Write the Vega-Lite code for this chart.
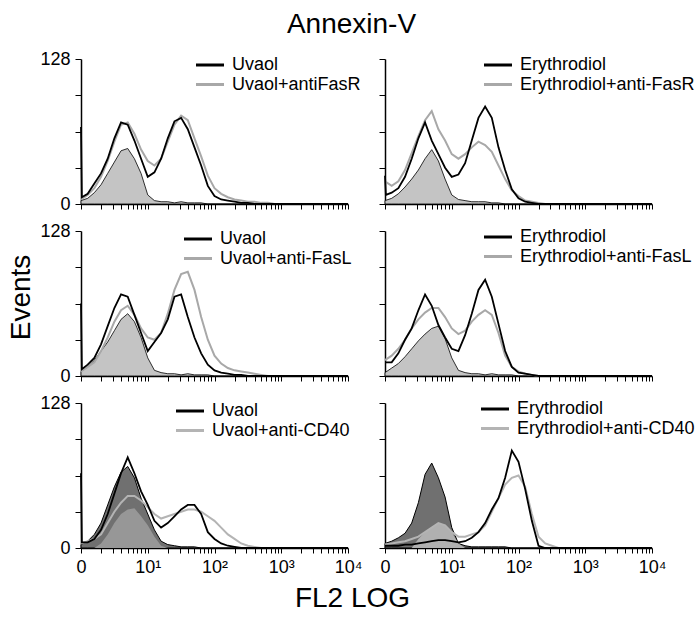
{
"$schema":"https://vega.github.io/schema/vega-lite/v6.json",
"padding":{"left":7,"top":11,"right":0,"bottom":0},
"title":{"text":"Annexin-V","anchor":"middle","fontSize":28,"fontWeight":"normal","font":"Liberation Sans","color":"#000","offset":11},
"datasets":{
"A":[
{"s":"c","x":1,"y":3},{"s":"c","x":1.259,"y":5},{"s":"c","x":1.585,"y":10},{"s":"c","x":1.995,"y":17},{"s":"c","x":2.512,"y":27},{"s":"c","x":3.162,"y":37},{"s":"c","x":3.981,"y":47},{"s":"c","x":5.012,"y":49},{"s":"c","x":6.31,"y":40},{"s":"c","x":7.943,"y":27},{"s":"c","x":10,"y":8},{"s":"c","x":12.59,"y":3},{"s":"c","x":15.85,"y":2},{"s":"c","x":19.95,"y":2},{"s":"c","x":25.12,"y":1},{"s":"c","x":31.62,"y":2},{"s":"c","x":39.81,"y":1},{"s":"c","x":50.12,"y":1},{"s":"c","x":63.1,"y":1},{"s":"c","x":79.43,"y":0},{"s":"c","x":10000,"y":0},
{"s":"b","x":1,"y":68},{"s":"b","x":1.03,"y":6},{"s":"b","x":1.259,"y":9},{"s":"b","x":1.585,"y":18},{"s":"b","x":1.995,"y":27},{"s":"b","x":2.512,"y":40},{"s":"b","x":3.162,"y":58},{"s":"b","x":3.981,"y":72},{"s":"b","x":5.012,"y":70},{"s":"b","x":6.31,"y":56},{"s":"b","x":7.943,"y":40},{"s":"b","x":10,"y":24},{"s":"b","x":12.59,"y":28},{"s":"b","x":15.85,"y":40},{"s":"b","x":19.95,"y":58},{"s":"b","x":25.12,"y":73},{"s":"b","x":31.62,"y":76},{"s":"b","x":39.81,"y":66},{"s":"b","x":50.12,"y":50},{"s":"b","x":63.1,"y":34},{"s":"b","x":79.43,"y":16},{"s":"b","x":100,"y":7},{"s":"b","x":125.9,"y":4},{"s":"b","x":158.5,"y":3},{"s":"b","x":199.5,"y":2},{"s":"b","x":251.2,"y":1},{"s":"b","x":316.2,"y":1},{"s":"b","x":398.1,"y":0},{"s":"b","x":10000,"y":0},
{"s":"g","x":1,"y":4},{"s":"g","x":1.259,"y":8},{"s":"g","x":1.585,"y":14},{"s":"g","x":1.995,"y":24},{"s":"g","x":2.512,"y":38},{"s":"g","x":3.162,"y":55},{"s":"g","x":3.981,"y":70},{"s":"g","x":5.012,"y":72},{"s":"g","x":6.31,"y":62},{"s":"g","x":7.943,"y":48},{"s":"g","x":10,"y":38},{"s":"g","x":12.59,"y":34},{"s":"g","x":15.85,"y":40},{"s":"g","x":19.95,"y":55},{"s":"g","x":25.12,"y":70},{"s":"g","x":31.62,"y":78},{"s":"g","x":39.81,"y":74},{"s":"g","x":50.12,"y":58},{"s":"g","x":63.1,"y":42},{"s":"g","x":79.43,"y":25},{"s":"g","x":100,"y":14},{"s":"g","x":125.9,"y":9},{"s":"g","x":158.5,"y":6},{"s":"g","x":199.5,"y":4},{"s":"g","x":251.2,"y":3},{"s":"g","x":316.2,"y":2},{"s":"g","x":398.1,"y":2},{"s":"g","x":501.2,"y":1},{"s":"g","x":631,"y":1},{"s":"g","x":794.3,"y":0},{"s":"g","x":10000,"y":0}
],
"B":[
{"s":"c","x":1,"y":3},{"s":"c","x":1.259,"y":5},{"s":"c","x":1.585,"y":9},{"s":"c","x":1.995,"y":15},{"s":"c","x":2.512,"y":22},{"s":"c","x":3.162,"y":30},{"s":"c","x":3.981,"y":40},{"s":"c","x":5.012,"y":48},{"s":"c","x":6.31,"y":38},{"s":"c","x":7.943,"y":22},{"s":"c","x":10,"y":8},{"s":"c","x":12.59,"y":4},{"s":"c","x":15.85,"y":3},{"s":"c","x":19.95,"y":2},{"s":"c","x":25.12,"y":2},{"s":"c","x":31.62,"y":2},{"s":"c","x":39.81,"y":1},{"s":"c","x":50.12,"y":1},{"s":"c","x":63.1,"y":0},{"s":"c","x":10000,"y":0},
{"s":"b","x":1,"y":25},{"s":"b","x":1.03,"y":8},{"s":"b","x":1.259,"y":10},{"s":"b","x":1.585,"y":14},{"s":"b","x":1.995,"y":24},{"s":"b","x":2.512,"y":40},{"s":"b","x":3.162,"y":58},{"s":"b","x":3.981,"y":72},{"s":"b","x":5.012,"y":56},{"s":"b","x":6.31,"y":44},{"s":"b","x":7.943,"y":32},{"s":"b","x":10,"y":24},{"s":"b","x":12.59,"y":26},{"s":"b","x":15.85,"y":36},{"s":"b","x":19.95,"y":56},{"s":"b","x":25.12,"y":76},{"s":"b","x":31.62,"y":86},{"s":"b","x":39.81,"y":76},{"s":"b","x":50.12,"y":50},{"s":"b","x":63.1,"y":30},{"s":"b","x":79.43,"y":13},{"s":"b","x":100,"y":5},{"s":"b","x":125.9,"y":2},{"s":"b","x":158.5,"y":1},{"s":"b","x":199.5,"y":0},{"s":"b","x":10000,"y":0},
{"s":"g","x":1,"y":20},{"s":"g","x":1.259,"y":16},{"s":"g","x":1.585,"y":20},{"s":"g","x":1.995,"y":30},{"s":"g","x":2.512,"y":45},{"s":"g","x":3.162,"y":60},{"s":"g","x":3.981,"y":74},{"s":"g","x":5.012,"y":82},{"s":"g","x":6.31,"y":66},{"s":"g","x":7.943,"y":56},{"s":"g","x":10,"y":44},{"s":"g","x":12.59,"y":40},{"s":"g","x":15.85,"y":44},{"s":"g","x":19.95,"y":50},{"s":"g","x":25.12,"y":55},{"s":"g","x":31.62,"y":52},{"s":"g","x":39.81,"y":46},{"s":"g","x":50.12,"y":34},{"s":"g","x":63.1,"y":22},{"s":"g","x":79.43,"y":12},{"s":"g","x":100,"y":7},{"s":"g","x":125.9,"y":3},{"s":"g","x":158.5,"y":2},{"s":"g","x":199.5,"y":1},{"s":"g","x":251.2,"y":0},{"s":"g","x":10000,"y":0}
],
"C":[
{"s":"c","x":1,"y":4},{"s":"c","x":1.259,"y":8},{"s":"c","x":1.585,"y":14},{"s":"c","x":1.995,"y":22},{"s":"c","x":2.512,"y":30},{"s":"c","x":3.162,"y":40},{"s":"c","x":3.981,"y":50},{"s":"c","x":5.012,"y":55},{"s":"c","x":6.31,"y":48},{"s":"c","x":7.943,"y":34},{"s":"c","x":10,"y":16},{"s":"c","x":12.59,"y":5},{"s":"c","x":15.85,"y":3},{"s":"c","x":19.95,"y":2},{"s":"c","x":25.12,"y":2},{"s":"c","x":31.62,"y":1},{"s":"c","x":39.81,"y":2},{"s":"c","x":50.12,"y":1},{"s":"c","x":63.1,"y":1},{"s":"c","x":79.43,"y":1},{"s":"c","x":100,"y":0},{"s":"c","x":10000,"y":0},
{"s":"b","x":1,"y":64},{"s":"b","x":1.03,"y":6},{"s":"b","x":1.259,"y":10},{"s":"b","x":1.585,"y":16},{"s":"b","x":1.995,"y":28},{"s":"b","x":2.512,"y":44},{"s":"b","x":3.162,"y":60},{"s":"b","x":3.981,"y":72},{"s":"b","x":5.012,"y":70},{"s":"b","x":6.31,"y":54},{"s":"b","x":7.943,"y":38},{"s":"b","x":10,"y":22},{"s":"b","x":12.59,"y":30},{"s":"b","x":15.85,"y":38},{"s":"b","x":19.95,"y":50},{"s":"b","x":25.12,"y":70},{"s":"b","x":31.62,"y":72},{"s":"b","x":39.81,"y":52},{"s":"b","x":50.12,"y":34},{"s":"b","x":63.1,"y":20},{"s":"b","x":79.43,"y":10},{"s":"b","x":100,"y":5},{"s":"b","x":125.9,"y":3},{"s":"b","x":158.5,"y":2},{"s":"b","x":199.5,"y":1},{"s":"b","x":251.2,"y":1},{"s":"b","x":316.2,"y":0},{"s":"b","x":10000,"y":0},
{"s":"g","x":1,"y":4},{"s":"g","x":1.259,"y":8},{"s":"g","x":1.585,"y":12},{"s":"g","x":1.995,"y":22},{"s":"g","x":2.512,"y":34},{"s":"g","x":3.162,"y":48},{"s":"g","x":3.981,"y":58},{"s":"g","x":5.012,"y":62},{"s":"g","x":6.31,"y":54},{"s":"g","x":7.943,"y":42},{"s":"g","x":10,"y":34},{"s":"g","x":12.59,"y":32},{"s":"g","x":15.85,"y":38},{"s":"g","x":19.95,"y":55},{"s":"g","x":25.12,"y":76},{"s":"g","x":31.62,"y":90},{"s":"g","x":39.81,"y":92},{"s":"g","x":50.12,"y":76},{"s":"g","x":63.1,"y":52},{"s":"g","x":79.43,"y":32},{"s":"g","x":100,"y":18},{"s":"g","x":125.9,"y":11},{"s":"g","x":158.5,"y":7},{"s":"g","x":199.5,"y":5},{"s":"g","x":251.2,"y":4},{"s":"g","x":316.2,"y":3},{"s":"g","x":398.1,"y":2},{"s":"g","x":501.2,"y":1},{"s":"g","x":631,"y":0},{"s":"g","x":10000,"y":0}
],
"D":[
{"s":"c","x":1,"y":3},{"s":"c","x":1.259,"y":7},{"s":"c","x":1.585,"y":11},{"s":"c","x":1.995,"y":17},{"s":"c","x":2.512,"y":24},{"s":"c","x":3.162,"y":31},{"s":"c","x":3.981,"y":37},{"s":"c","x":5.012,"y":42},{"s":"c","x":6.31,"y":44},{"s":"c","x":7.943,"y":33},{"s":"c","x":10,"y":16},{"s":"c","x":12.59,"y":5},{"s":"c","x":15.85,"y":3},{"s":"c","x":19.95,"y":2},{"s":"c","x":25.12,"y":2},{"s":"c","x":31.62,"y":1},{"s":"c","x":39.81,"y":2},{"s":"c","x":50.12,"y":1},{"s":"c","x":63.1,"y":1},{"s":"c","x":79.43,"y":1},{"s":"c","x":100,"y":0},{"s":"c","x":10000,"y":0},
{"s":"b","x":1,"y":12},{"s":"b","x":1.259,"y":12},{"s":"b","x":1.585,"y":20},{"s":"b","x":1.995,"y":32},{"s":"b","x":2.512,"y":42},{"s":"b","x":3.162,"y":58},{"s":"b","x":3.981,"y":72},{"s":"b","x":5.012,"y":62},{"s":"b","x":6.31,"y":45},{"s":"b","x":7.943,"y":34},{"s":"b","x":10,"y":24},{"s":"b","x":12.59,"y":22},{"s":"b","x":15.85,"y":36},{"s":"b","x":19.95,"y":55},{"s":"b","x":25.12,"y":76},{"s":"b","x":31.62,"y":85},{"s":"b","x":39.81,"y":70},{"s":"b","x":50.12,"y":46},{"s":"b","x":63.1,"y":22},{"s":"b","x":79.43,"y":8},{"s":"b","x":100,"y":3},{"s":"b","x":125.9,"y":2},{"s":"b","x":158.5,"y":1},{"s":"b","x":199.5,"y":0},{"s":"b","x":10000,"y":0},
{"s":"g","x":1,"y":14},{"s":"g","x":1.259,"y":18},{"s":"g","x":1.585,"y":24},{"s":"g","x":1.995,"y":32},{"s":"g","x":2.512,"y":42},{"s":"g","x":3.162,"y":50},{"s":"g","x":3.981,"y":56},{"s":"g","x":5.012,"y":60},{"s":"g","x":6.31,"y":60},{"s":"g","x":7.943,"y":52},{"s":"g","x":10,"y":42},{"s":"g","x":12.59,"y":37},{"s":"g","x":15.85,"y":40},{"s":"g","x":19.95,"y":48},{"s":"g","x":25.12,"y":54},{"s":"g","x":31.62,"y":58},{"s":"g","x":39.81,"y":54},{"s":"g","x":50.12,"y":38},{"s":"g","x":63.1,"y":18},{"s":"g","x":79.43,"y":8},{"s":"g","x":100,"y":4},{"s":"g","x":125.9,"y":2},{"s":"g","x":158.5,"y":1},{"s":"g","x":199.5,"y":0},{"s":"g","x":10000,"y":0}
],
"E":[
{"s":"c","x":1,"y":3},{"s":"c","x":1.259,"y":6},{"s":"c","x":1.585,"y":12},{"s":"c","x":1.995,"y":22},{"s":"c","x":2.512,"y":38},{"s":"c","x":3.162,"y":54},{"s":"c","x":3.981,"y":67},{"s":"c","x":5.012,"y":72},{"s":"c","x":6.31,"y":62},{"s":"c","x":7.943,"y":44},{"s":"c","x":10,"y":30},{"s":"c","x":12.59,"y":16},{"s":"c","x":15.85,"y":6},{"s":"c","x":19.95,"y":3},{"s":"c","x":25.12,"y":2},{"s":"c","x":31.62,"y":1},{"s":"c","x":39.81,"y":1},{"s":"c","x":50.12,"y":1},{"s":"c","x":63.1,"y":0},{"s":"c","x":10000,"y":0},
{"s":"m","x":1.585,"y":0},{"s":"m","x":1.995,"y":4},{"s":"m","x":2.512,"y":12},{"s":"m","x":3.162,"y":22},{"s":"m","x":3.981,"y":30},{"s":"m","x":5.012,"y":34},{"s":"m","x":6.31,"y":35},{"s":"m","x":7.943,"y":28},{"s":"m","x":10,"y":20},{"s":"m","x":12.59,"y":10},{"s":"m","x":15.85,"y":2},{"s":"m","x":19.95,"y":0},
{"s":"b","x":1,"y":66},{"s":"b","x":1.03,"y":5},{"s":"b","x":1.259,"y":5},{"s":"b","x":1.585,"y":8},{"s":"b","x":1.995,"y":16},{"s":"b","x":2.512,"y":30},{"s":"b","x":3.162,"y":48},{"s":"b","x":3.981,"y":66},{"s":"b","x":5.012,"y":80},{"s":"b","x":6.31,"y":66},{"s":"b","x":7.943,"y":50},{"s":"b","x":10,"y":38},{"s":"b","x":12.59,"y":24},{"s":"b","x":15.85,"y":18},{"s":"b","x":19.95,"y":22},{"s":"b","x":25.12,"y":28},{"s":"b","x":31.62,"y":34},{"s":"b","x":39.81,"y":38},{"s":"b","x":50.12,"y":38},{"s":"b","x":63.1,"y":30},{"s":"b","x":79.43,"y":14},{"s":"b","x":100,"y":8},{"s":"b","x":125.9,"y":4},{"s":"b","x":158.5,"y":2},{"s":"b","x":199.5,"y":1},{"s":"b","x":251.2,"y":0},{"s":"b","x":10000,"y":0},
{"s":"g","x":1,"y":4},{"s":"g","x":1.259,"y":6},{"s":"g","x":1.585,"y":8},{"s":"g","x":1.995,"y":12},{"s":"g","x":2.512,"y":22},{"s":"g","x":3.162,"y":32},{"s":"g","x":3.981,"y":40},{"s":"g","x":5.012,"y":46},{"s":"g","x":6.31,"y":46},{"s":"g","x":7.943,"y":42},{"s":"g","x":10,"y":36},{"s":"g","x":12.59,"y":30},{"s":"g","x":15.85,"y":26},{"s":"g","x":19.95,"y":28},{"s":"g","x":25.12,"y":30},{"s":"g","x":31.62,"y":32},{"s":"g","x":39.81,"y":34},{"s":"g","x":50.12,"y":34},{"s":"g","x":63.1,"y":32},{"s":"g","x":79.43,"y":28},{"s":"g","x":100,"y":24},{"s":"g","x":125.9,"y":18},{"s":"g","x":158.5,"y":12},{"s":"g","x":199.5,"y":8},{"s":"g","x":251.2,"y":4},{"s":"g","x":316.2,"y":2},{"s":"g","x":398.1,"y":1},{"s":"g","x":501.2,"y":0},{"s":"g","x":10000,"y":0}
],
"F":[
{"s":"c","x":1,"y":4},{"s":"c","x":1.259,"y":6},{"s":"c","x":1.585,"y":9},{"s":"c","x":1.995,"y":13},{"s":"c","x":2.512,"y":22},{"s":"c","x":3.162,"y":40},{"s":"c","x":3.981,"y":65},{"s":"c","x":5.012,"y":75},{"s":"c","x":6.31,"y":62},{"s":"c","x":7.943,"y":45},{"s":"c","x":10,"y":18},{"s":"c","x":12.59,"y":4},{"s":"c","x":15.85,"y":2},{"s":"c","x":19.95,"y":1},{"s":"c","x":25.12,"y":1},{"s":"c","x":31.62,"y":1},{"s":"c","x":39.81,"y":1},{"s":"c","x":50.12,"y":1},{"s":"c","x":63.1,"y":1},{"s":"c","x":79.43,"y":0},{"s":"c","x":10000,"y":0},
{"s":"m","x":2.512,"y":0},{"s":"m","x":3.162,"y":8},{"s":"m","x":3.981,"y":14},{"s":"m","x":5.012,"y":18},{"s":"m","x":6.31,"y":22},{"s":"m","x":7.943,"y":20},{"s":"m","x":10,"y":14},{"s":"m","x":12.59,"y":4},{"s":"m","x":15.85,"y":0},
{"s":"b","x":1,"y":2},{"s":"b","x":1.259,"y":2},{"s":"b","x":1.585,"y":2},{"s":"b","x":1.995,"y":3},{"s":"b","x":2.512,"y":3},{"s":"b","x":3.162,"y":4},{"s":"b","x":3.981,"y":5},{"s":"b","x":5.012,"y":6},{"s":"b","x":6.31,"y":7},{"s":"b","x":7.943,"y":7},{"s":"b","x":10,"y":6},{"s":"b","x":12.59,"y":5},{"s":"b","x":15.85,"y":6},{"s":"b","x":19.95,"y":9},{"s":"b","x":25.12,"y":14},{"s":"b","x":31.62,"y":22},{"s":"b","x":39.81,"y":34},{"s":"b","x":50.12,"y":44},{"s":"b","x":63.1,"y":62},{"s":"b","x":79.43,"y":86},{"s":"b","x":100,"y":76},{"s":"b","x":125.9,"y":52},{"s":"b","x":158.5,"y":24},{"s":"b","x":199.5,"y":2},{"s":"b","x":251.2,"y":0},{"s":"b","x":10000,"y":0},
{"s":"g","x":1,"y":3},{"s":"g","x":1.259,"y":4},{"s":"g","x":1.585,"y":5},{"s":"g","x":1.995,"y":6},{"s":"g","x":2.512,"y":8},{"s":"g","x":3.162,"y":10},{"s":"g","x":3.981,"y":14},{"s":"g","x":5.012,"y":18},{"s":"g","x":6.31,"y":22},{"s":"g","x":7.943,"y":20},{"s":"g","x":10,"y":14},{"s":"g","x":12.59,"y":10},{"s":"g","x":15.85,"y":10},{"s":"g","x":19.95,"y":12},{"s":"g","x":25.12,"y":14},{"s":"g","x":31.62,"y":20},{"s":"g","x":39.81,"y":32},{"s":"g","x":50.12,"y":44},{"s":"g","x":63.1,"y":56},{"s":"g","x":79.43,"y":62},{"s":"g","x":100,"y":64},{"s":"g","x":125.9,"y":54},{"s":"g","x":158.5,"y":30},{"s":"g","x":199.5,"y":10},{"s":"g","x":251.2,"y":4},{"s":"g","x":316.2,"y":2},{"s":"g","x":398.1,"y":0},{"s":"g","x":10000,"y":0}
]
},
"columns":2,
"spacing":{"row":27,"column":37},
"bounds":"flush",
"resolve":{"scale":{"color":"independent"},"legend":{"color":"independent"}},
"concat":[
{"data":{"name":"A"},"width":267,"height":145,
"encoding":{"x":{"field":"x","type":"quantitative","scale":{"type":"log","domain":[1,10000]},"axis":{"values":[1,2,3,4,5,6,7,8,9,10,20,30,40,50,60,70,80,90,100,200,300,400,500,600,700,800,900,1000,2000,3000,4000,5000,6000,7000,8000,9000,10000],"labels":false,"title":null}},
"y":{"field":"y","type":"quantitative","scale":{"domain":[0,128]},"axis":{"values":[0,32,64,96,128],"labelExpr":"datum.value==0||datum.value==128?datum.label:''","title":null}}},
"layer":[
{"transform":[{"filter":"datum.s=='c'"}],"mark":{"type":"area","fill":"#c4c4c4","stroke":"#000","strokeWidth":0.8}},
{"transform":[{"filter":"datum.s=='g'"}],"mark":{"type":"line","strokeWidth":2},"encoding":{"color":{"field":"s","type":"nominal","scale":{"domain":["b","g"],"range":["#000000","#a8a8a8"]},"legend":{"legendX":120,"legendY":-3,"labelExpr":"datum.value=='b'?'Uvaol':'Uvaol+antiFasR'"}}}},
{"transform":[{"filter":"datum.s=='b'"}],"mark":{"type":"line","strokeWidth":1.8},"encoding":{"color":{"field":"s","type":"nominal","scale":{"domain":["b","g"],"range":["#000000","#a8a8a8"]},"legend":{"legendX":120,"legendY":-3,"labelExpr":"datum.value=='b'?'Uvaol':'Uvaol+antiFasR'"}}}}
]},
{"data":{"name":"B"},"width":267,"height":145,
"encoding":{"x":{"field":"x","type":"quantitative","scale":{"type":"log","domain":[1,10000]},"axis":{"values":[1,2,3,4,5,6,7,8,9,10,20,30,40,50,60,70,80,90,100,200,300,400,500,600,700,800,900,1000,2000,3000,4000,5000,6000,7000,8000,9000,10000],"labels":false,"title":null}},
"y":{"field":"y","type":"quantitative","scale":{"domain":[0,128]},"axis":{"values":[0,32,64,96,128],"labels":false,"title":null}}},
"layer":[
{"transform":[{"filter":"datum.s=='c'"}],"mark":{"type":"area","fill":"#c4c4c4","stroke":"#000","strokeWidth":0.8}},
{"transform":[{"filter":"datum.s=='g'"}],"mark":{"type":"line","strokeWidth":2},"encoding":{"color":{"field":"s","type":"nominal","scale":{"domain":["b","g"],"range":["#000000","#a8a8a8"]},"legend":{"legendX":104,"legendY":-3,"labelExpr":"datum.value=='b'?'Erythrodiol':'Erythrodiol+anti-FasR'"}}}},
{"transform":[{"filter":"datum.s=='b'"}],"mark":{"type":"line","strokeWidth":1.8},"encoding":{"color":{"field":"s","type":"nominal","scale":{"domain":["b","g"],"range":["#000000","#a8a8a8"]},"legend":{"legendX":104,"legendY":-3,"labelExpr":"datum.value=='b'?'Erythrodiol':'Erythrodiol+anti-FasR'"}}}}
]},
{"data":{"name":"C"},"width":267,"height":145,
"encoding":{"x":{"field":"x","type":"quantitative","scale":{"type":"log","domain":[1,10000]},"axis":{"values":[1,2,3,4,5,6,7,8,9,10,20,30,40,50,60,70,80,90,100,200,300,400,500,600,700,800,900,1000,2000,3000,4000,5000,6000,7000,8000,9000,10000],"labels":false,"title":null}},
"y":{"field":"y","type":"quantitative","scale":{"domain":[0,128]},"axis":{"values":[0,32,64,96,128],"labelExpr":"datum.value==0||datum.value==128?datum.label:''","title":"Events","titlePadding":4,"titleY":66}}},
"layer":[
{"transform":[{"filter":"datum.s=='c'"}],"mark":{"type":"area","fill":"#c4c4c4","stroke":"#000","strokeWidth":0.8}},
{"transform":[{"filter":"datum.s=='g'"}],"mark":{"type":"line","strokeWidth":2},"encoding":{"color":{"field":"s","type":"nominal","scale":{"domain":["b","g"],"range":["#000000","#a8a8a8"]},"legend":{"legendX":108,"legendY":-1,"labelExpr":"datum.value=='b'?'Uvaol':'Uvaol+anti-FasL'"}}}},
{"transform":[{"filter":"datum.s=='b'"}],"mark":{"type":"line","strokeWidth":1.8},"encoding":{"color":{"field":"s","type":"nominal","scale":{"domain":["b","g"],"range":["#000000","#a8a8a8"]},"legend":{"legendX":108,"legendY":-1,"labelExpr":"datum.value=='b'?'Uvaol':'Uvaol+anti-FasL'"}}}}
]},
{"data":{"name":"D"},"width":267,"height":145,
"encoding":{"x":{"field":"x","type":"quantitative","scale":{"type":"log","domain":[1,10000]},"axis":{"values":[1,2,3,4,5,6,7,8,9,10,20,30,40,50,60,70,80,90,100,200,300,400,500,600,700,800,900,1000,2000,3000,4000,5000,6000,7000,8000,9000,10000],"labels":false,"title":null}},
"y":{"field":"y","type":"quantitative","scale":{"domain":[0,128]},"axis":{"values":[0,32,64,96,128],"labels":false,"title":null}}},
"layer":[
{"transform":[{"filter":"datum.s=='c'"}],"mark":{"type":"area","fill":"#c4c4c4","stroke":"#000","strokeWidth":0.8}},
{"transform":[{"filter":"datum.s=='g'"}],"mark":{"type":"line","strokeWidth":2},"encoding":{"color":{"field":"s","type":"nominal","scale":{"domain":["b","g"],"range":["#000000","#a8a8a8"]},"legend":{"legendX":104,"legendY":-3,"labelExpr":"datum.value=='b'?'Erythrodiol':'Erythrodiol+anti-FasL'"}}}},
{"transform":[{"filter":"datum.s=='b'"}],"mark":{"type":"line","strokeWidth":1.8},"encoding":{"color":{"field":"s","type":"nominal","scale":{"domain":["b","g"],"range":["#000000","#a8a8a8"]},"legend":{"legendX":104,"legendY":-3,"labelExpr":"datum.value=='b'?'Erythrodiol':'Erythrodiol+anti-FasL'"}}}}
]},
{"data":{"name":"E"},"width":267,"height":145,
"encoding":{"x":{"field":"x","type":"quantitative","scale":{"type":"log","domain":[1,10000]},"axis":{"values":[1,2,3,4,5,6,7,8,9,10,20,30,40,50,60,70,80,90,100,200,300,400,500,600,700,800,900,1000,2000,3000,4000,5000,6000,7000,8000,9000,10000],"labelExpr":"datum.value==1?'0':datum.value==10?'10\u00b9':datum.value==100?'10\u00b2':datum.value==1000?'10\u00b3':datum.value==10000?'10\u2074':''","title":"FL2 LOG","titleX":271,"titleY":36}},
"y":{"field":"y","type":"quantitative","scale":{"domain":[0,128]},"axis":{"values":[0,32,64,96,128],"labelExpr":"datum.value==0||datum.value==128?datum.label:''","title":null}}},
"layer":[
{"transform":[{"filter":"datum.s=='c'"}],"mark":{"type":"area","fill":"#707070","stroke":"#000","strokeWidth":1}},
{"transform":[{"filter":"datum.s=='m'"}],"mark":{"type":"area","fill":"#979797"}},
{"transform":[{"filter":"datum.s=='g'"}],"mark":{"type":"line","strokeWidth":2},"encoding":{"color":{"field":"s","type":"nominal","scale":{"domain":["b","g"],"range":["#000000","#b4b4b4"]},"legend":{"legendX":100,"legendY":-1,"labelExpr":"datum.value=='b'?'Uvaol':'Uvaol+anti-CD40'"}}}},
{"transform":[{"filter":"datum.s=='b'"}],"mark":{"type":"line","strokeWidth":1.8},"encoding":{"color":{"field":"s","type":"nominal","scale":{"domain":["b","g"],"range":["#000000","#b4b4b4"]},"legend":{"legendX":100,"legendY":-1,"labelExpr":"datum.value=='b'?'Uvaol':'Uvaol+anti-CD40'"}}}}
]},
{"data":{"name":"F"},"width":267,"height":145,
"encoding":{"x":{"field":"x","type":"quantitative","scale":{"type":"log","domain":[1,10000]},"axis":{"values":[1,2,3,4,5,6,7,8,9,10,20,30,40,50,60,70,80,90,100,200,300,400,500,600,700,800,900,1000,2000,3000,4000,5000,6000,7000,8000,9000,10000],"labelExpr":"datum.value==1?'0':datum.value==10?'10\u00b9':datum.value==100?'10\u00b2':datum.value==1000?'10\u00b3':datum.value==10000?'10\u2074':''","title":null}},
"y":{"field":"y","type":"quantitative","scale":{"domain":[0,128]},"axis":{"values":[0,32,64,96,128],"labels":false,"title":null}}},
"layer":[
{"transform":[{"filter":"datum.s=='c'"}],"mark":{"type":"area","fill":"#707070","stroke":"#000","strokeWidth":1}},
{"transform":[{"filter":"datum.s=='m'"}],"mark":{"type":"area","fill":"#b0b0b0"}},
{"transform":[{"filter":"datum.s=='g'"}],"mark":{"type":"line","strokeWidth":2},"encoding":{"color":{"field":"s","type":"nominal","scale":{"domain":["b","g"],"range":["#000000","#b4b4b4"]},"legend":{"legendX":101,"legendY":-3,"labelExpr":"datum.value=='b'?'Erythrodiol':'Erythrodiol+anti-CD40'"}}}},
{"transform":[{"filter":"datum.s=='b'"}],"mark":{"type":"line","strokeWidth":1.8},"encoding":{"color":{"field":"s","type":"nominal","scale":{"domain":["b","g"],"range":["#000000","#b4b4b4"]},"legend":{"legendX":101,"legendY":-3,"labelExpr":"datum.value=='b'?'Erythrodiol':'Erythrodiol+anti-CD40'"}}}}
]}
],
"config":{
"view":{"stroke":null},
"font":"Liberation Sans",
"axis":{"domainColor":"#000","domainWidth":1.5,"tickColor":"#000","tickWidth":1,"tickSize":5,"labelColor":"#000","labelFontSize":18,"labelFont":"Liberation Sans","grid":false,"titleFont":"Liberation Sans","titleFontWeight":"normal","titleColor":"#000","titleFontSize":28,"labelOverlap":false,"labelFlush":false,"labelPadding":5},
"axisY":{"tickSize":6},
"legend":{"orient":"none","title":null,"padding":0,"labelFontSize":18,"labelFont":"Liberation Sans","labelColor":"#000","symbolType":"M-2,0H2","symbolStrokeWidth":3,"symbolSize":196,"labelOffset":13,"rowPadding":1.5,"labelLimit":400}
}
}
